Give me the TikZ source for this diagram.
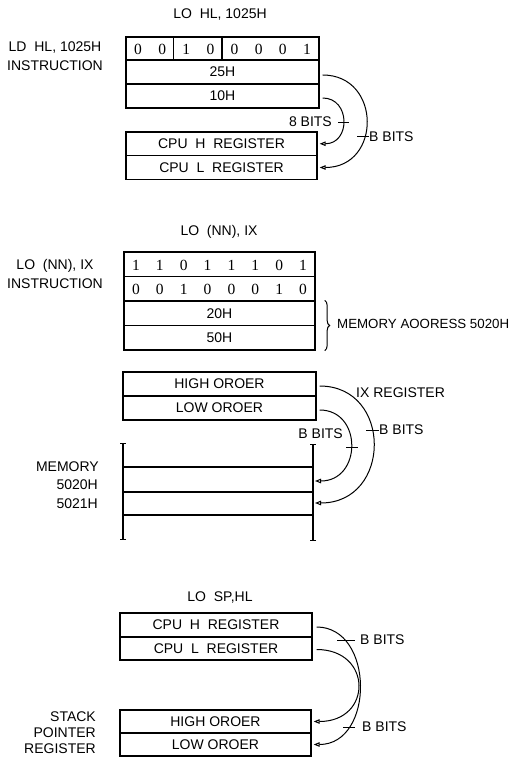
\documentclass[tikz,border=0pt]{standalone}
\usepackage{fontspec}
\setmainfont{Liberation Sans}
\newfontfamily\bitfont{Liberation Serif}
\usetikzlibrary{arrows.meta,decorations.pathreplacing}
\begin{document}
\begin{tikzpicture}[x=1pt,y=-1pt,
  lab/.style={font=\fontsize{14}{19}\selectfont, inner sep=0pt},
  row/.style={draw, line width=1.3pt, inner sep=0pt, minimum height=24pt, font=\fontsize{14}{15}\selectfont},
  bit/.style={font=\bitfont\fontsize{15.5}{17}\selectfont, inner sep=0pt},
  flow/.style={line width=1pt, -{Triangle[open,length=6pt,width=4.5pt]}},
  tick/.style={line width=1pt},
  rule/.style={line width=1.3pt},
  memline/.style={line width=1.3pt, {Bar[width=6pt,line width=1pt]}-{Bar[width=6pt,line width=1pt]}}]
\useasboundingbox (0,0) rectangle (513,759);

% ---------- LD HL,1025H ----------
\node[lab] (t1) at (220,15) {LO\ \ HL, 1025H};
\node[lab, align=center] (i1) at (55,56.5) {LD\ \ HL, 1025H\\INSTRUCTION};
\node[row, minimum width=193pt, minimum height=23pt] (b1) at (222.5,48.5) {};
\draw[rule] ([xshift=48.25pt]b1.north west) -- ([xshift=48.25pt]b1.south west);
\draw[rule] ([xshift=96.5pt]b1.north west) -- ([xshift=96.5pt]b1.south west);
\foreach \b [count=\i from 0] in {0,0,1,0,0,0,0,1}
  \node[bit] (ba\i) at (126+24.125*\i+12.06,49) {\b};
\node[row, minimum width=193pt] (r25) at (222.5,72) {25H};
\node[row, minimum width=193pt] (r10) at (222.5,96) {10H};
\node[row, minimum width=191pt, minimum height=23.5pt] (ch1) at (221.5,143.75) {CPU\ \ H\ \ REGISTER};
\node[row, minimum width=191pt, minimum height=24pt] (cl1) at (221.5,167.5) {CPU\ \ L\ \ REGISTER};
\draw[flow] ([xshift=3pt,yshift=-3pt]r25.east) .. controls +(59,0) and +(62,0) .. ([xshift=2pt]cl1.east);
\draw[flow] ([xshift=3pt,yshift=-2pt]r10.east) .. controls +(28,0) and +(31,0) .. ([xshift=2pt]ch1.east);
\node[lab, anchor=east] (eb1) at (332,122) {8 BITS};
\draw[tick] ([xshift=6pt,yshift=-1pt]eb1.east) -- ++(11,0);
\node[lab, anchor=west] (bb1) at (369,137) {B BITS};
\draw[tick] (bb1.west) -- ++(-12,0);

% ---------- LD (NN),IX ----------
\node[lab] (t2) at (219,232) {LO\ \ (NN), IX};
\node[lab, align=center] (i2) at (55,274) {LO\ \ (NN), IX\\INSTRUCTION};
\node[row, minimum width=191pt, minimum height=24.5pt] (p1) at (219.5,264.25) {};
\foreach \b [count=\i from 0] in {1,1,0,1,1,1,0,1}
  \node[bit] (pa\i) at (124+23.875*\i+11.94,265) {\b};
\node[row, minimum width=191pt, minimum height=24.5pt] (p2) at (219.5,288.75) {};
\foreach \b [count=\i from 0] in {0,0,1,0,0,0,1,0}
  \node[bit] (pb\i) at (124+23.875*\i+11.94,289.5) {\b};
\node[row, minimum width=191pt, minimum height=24.5pt] (p3) at (219.5,313.25) {20H};
\node[row, minimum width=191pt, minimum height=24.5pt] (p4) at (219.5,337.75) {50H};
\draw[decorate, decoration={brace, amplitude=5pt}, line width=1pt] ([xshift=9pt]p3.north east) -- ([xshift=9pt]p4.south east);
\node[lab, anchor=west, font=\fontsize{13.3}{15}\selectfont] (ma) at (337,324) {MEMORY AOORESS 5020H};

\node[row, minimum width=193pt] (h2) at (219.5,384) {HIGH OROER};
\node[row, minimum width=193pt] (l2) at (219.5,408) {LOW OROER};

\coordinate (mL1) at (123,443);
\coordinate (mL2) at (123,540);
\coordinate (mR1) at (313,444);
\coordinate (mR2) at (313,541);
\draw[memline] (mL1) -- (mL2);
\draw[memline] (mR1) -- (mR2);
\draw[rule] (123,467) -- (313,467);
\draw[rule] (123,492) -- (313,492);
\draw[rule] (123,515) -- (313,515);
\coordinate (m5020) at (315,481);
\coordinate (m5021) at (315,503);
\node[lab, anchor=east] (mem) at (99,467) {MEMORY};
\node[lab, anchor=east] (a5020) at (98,485) {5020H};
\node[lab, anchor=east] (a5021) at (98,504) {5021H};

\draw[flow] ([xshift=3pt,yshift=-2pt]h2.east) .. controls +(73,0) and +(77,0) .. (m5021);
\draw[flow] ([xshift=3pt,yshift=-2pt]l2.east) .. controls +(43,0) and +(47,0) .. (m5020);
\node[lab, anchor=west] (ixr) at (356,393) {IX REGISTER};
\node[lab, anchor=east] (ib2) at (343,434) {B BITS};
\draw[tick] (346,447) -- (358,447);
\node[lab, anchor=west] (ob2) at (379,430) {B BITS};
\draw[tick] (ob2.west) -- ++(-13,0);

% ---------- LD SP,HL ----------
\node[lab] (t3) at (220,598) {LO\ \ SP,HL};
\node[row, minimum width=192pt, minimum height=24pt] (ch3) at (216,625) {CPU\ \ H\ \ REGISTER};
\node[row, minimum width=192pt, minimum height=23pt] (cl3) at (216,648.5) {CPU\ \ L\ \ REGISTER};
\node[row, minimum width=191pt, minimum height=23pt] (h3) at (215.5,721.5) {HIGH OROER};
\node[row, minimum width=191pt, minimum height=23pt] (l3) at (215.5,744.5) {LOW OROER};
\node[lab, align=right, anchor=east, font=\fontsize{14}{16}\selectfont] (sp) at (96,733) {STACK\\POINTER\\REGISTER};
\draw[flow] ([xshift=4pt,yshift=-2pt]ch3.east) .. controls +(58,0) and +(61,0) .. ([xshift=2pt]l3.east);
\draw[flow] ([xshift=4pt,yshift=-1pt]cl3.east) .. controls +(56,0) and +(59,0) .. ([xshift=2pt]h3.east);
\node[lab, anchor=west] (sb1) at (360,640) {B BITS};
\draw[tick] (337,640) -- (355,640);
\node[lab, anchor=west] (sb2) at (362,727) {B BITS};
\draw[tick] (343,727) -- (355,727);
\end{tikzpicture}
\end{document}
